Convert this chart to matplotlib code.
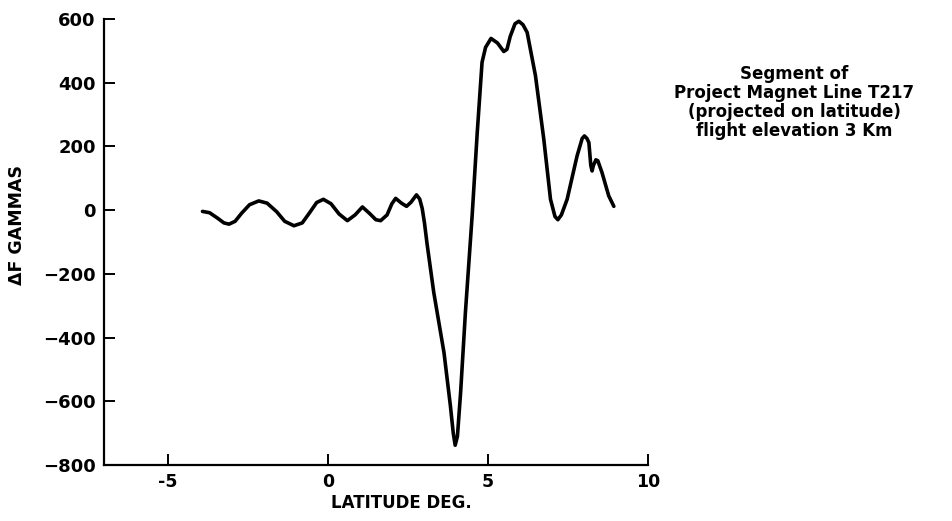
import matplotlib.pyplot as plt

plt.rcParams["font.family"] = ["DejaVu Sans"]
plt.rcParams["font.weight"] = "bold"

# profile
latitude = [
    -3.92, -3.7, -3.45, -3.25, -3.09, -2.9, -2.7, -2.45, -2.16, -1.9,
    -1.6, -1.35, -1.06, -0.8, -0.55, -0.35, -0.14, 0.1, 0.35, 0.61,
    0.85, 1.08, 1.3, 1.5, 1.65, 1.85, 2.0, 2.12, 2.3, 2.46,
    2.6, 2.77, 2.87, 2.95, 3.02, 3.1, 3.31, 3.63, 3.83, 3.92,
    3.98, 4.05, 4.15, 4.30, 4.51, 4.67, 4.82, 4.93, 5.1, 5.3,
    5.5, 5.6, 5.7, 5.85, 5.97, 6.1, 6.23, 6.49, 6.75, 6.96,
    7.1, 7.19, 7.3, 7.48, 7.79, 7.95, 8.02, 8.1, 8.16, 8.22,
    8.26, 8.3, 8.38, 8.44, 8.57, 8.78, 8.94,
]
delta_f = [
    -4, -8, -25, -40, -44, -35, -10, 17, 29, 22,
    -5, -35, -49, -40, -5, 24, 34, 20, -12, -33,
    -15, 10, -10, -30, -33, -15, 20, 37, 22, 12,
    25, 48, 35, 5, -40, -105, -258, -447, -614, -700,
    -738, -710, -572, -321, -18, 244, 464, 511, 539, 525,
    498, 505, 545, 585, 593, 582, 558, 422, 223, 34,
    -20, -30, -15, 34, 170, 225, 233, 225, 212, 140,
    123, 140, 158, 155, 118, 45, 12,
]

x_ticks = [-5, 0, 5, 10]
y_ticks = [600, 400, 200, 0, -200, -400, -600, -800]

note = ("Segment of\nProject Magnet Line T217\n"
        "(projected on latitude)\nflight elevation 3 Km")

fig = plt.figure(figsize=(9.52, 5.21), dpi=100)
ax = fig.add_axes([0.1092, 0.1075, 0.5712, 0.856])

ax.plot(latitude, delta_f, color="black", lw=2.6, solid_capstyle="round")

ax.set_xlim(-7, 10)
ax.set_ylim(-800, 600)
ax.set_xticks(x_ticks)
ax.set_xticklabels([str(v) for v in x_ticks])
ax.set_yticks(y_ticks)
ax.set_yticklabels([str(v).replace("-", "\u2212") for v in y_ticks])

for side in ["top", "right"]:
    ax.spines[side].set_visible(False)
for side in ["left", "bottom"]:
    ax.spines[side].set_linewidth(1.6)

ax.tick_params(direction="in", length=8, width=1.4, labelsize=13, pad=6)
ax.tick_params(axis="x", pad=6, labelsize=12.5)

ax.set_xlabel("LATITUDE DEG.", fontsize=12, fontweight="bold", va="center")
ax.xaxis.set_label_coords(0.547, -0.085)
ax.set_ylabel("\u0394F GAMMAS", fontsize=12.5, fontweight="bold", va="center")
ax.yaxis.set_label_coords(-0.16, 0.538)

fig.text(0.834, 0.803, note, ha="center", va="center", fontsize=12,
         fontweight="bold", linespacing=1.07)

fig.savefig("out.png", dpi=100)
